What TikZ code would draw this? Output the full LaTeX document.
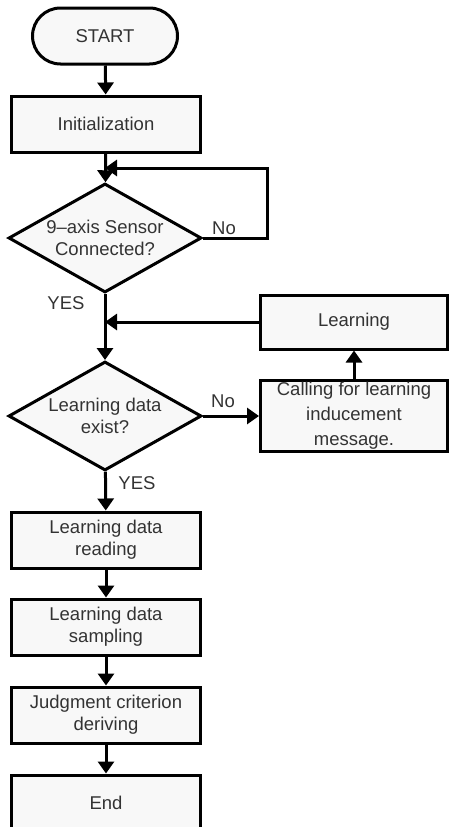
\documentclass[tikz,border=0pt]{standalone}
\usepackage{fontspec}
\setmainfont{Liberation Sans}
\usetikzlibrary{shapes.geometric,arrows.meta}

\definecolor{boxgray}{HTML}{F8F8F8}
\definecolor{textgray}{HTML}{333333}

\begin{document}
\begin{tikzpicture}[x=1pt, y=-1pt, line width=3pt,
    font=\fontsize{18.5}{22}\selectfont,
    process/.style={draw, fill=boxgray, text=textgray, align=center,
        minimum width=189pt, minimum height=56pt, inner sep=2pt},
    terminal/.style={process, minimum width=145pt, rounded corners=28pt},
    decision/.style={diamond, aspect=1.77, draw, fill=boxgray, text=textgray, align=center,
        minimum width=193pt, minimum height=109pt, inner sep=0pt},
    lbl/.style={text=textgray},
    arr/.style={-{Triangle[length=12pt, width=16pt]}}]
    \useasboundingbox (0,0) rectangle (449,827);

    \node[terminal] (start) at (105,36) {START};
    \node[process] (init) at (106,124) {Initialization};
    \node[decision] (sensor) at (105,238) {9--axis Sensor\\Connected?};
    \node[decision] (exist) at (105,416) {Learning data\\exist?};
    \node[process, minimum width=187pt, minimum height=54pt] (learn) at (354,322) {Learning};
    \node[process, minimum width=187pt, minimum height=70pt,
        font=\fontsize{18.5}{25}\selectfont] (call) at (354,416) {Calling for learning\\inducement\\message.};
    \node[process] (read) at (106,540) {Learning data\\reading};
    \node[process] (sample) at (106,627) {Learning data\\sampling};
    \node[process] (judge) at (106,715) {Judgment criterion\\deriving};
    \node[process] (end) at (106,803) {End};

    \coordinate (loop) at (105,168);
    \coordinate (loopr) at (267,238);
    \coordinate (merge) at (105,322);

    % main line
    \draw[arr] (start) -- (init);
    \draw[arr] (init) -- (sensor);
    \draw[arr] (sensor) -- (exist);
    \draw[arr] (exist) -- (read);
    \draw[arr] (read) -- (sample);
    \draw[arr] (sample) -- (judge);
    \draw[arr] (judge) -- (end);

    % branches
    \draw[arr] (sensor.east) -- (loopr) |- (loop);
    \draw[arr] (exist) -- (call);
    \draw[arr] (call) -- (learn);
    \draw[arr] (learn) -- (merge);

    \node[lbl] (no1) at (224,228) {No};
    \node[lbl] (yes1) at (66,303) {YES};
    \node[lbl] (no2) at (223,401) {No};
    \node[lbl] (yes2) at (137,483) {YES};
\end{tikzpicture}
\end{document}
